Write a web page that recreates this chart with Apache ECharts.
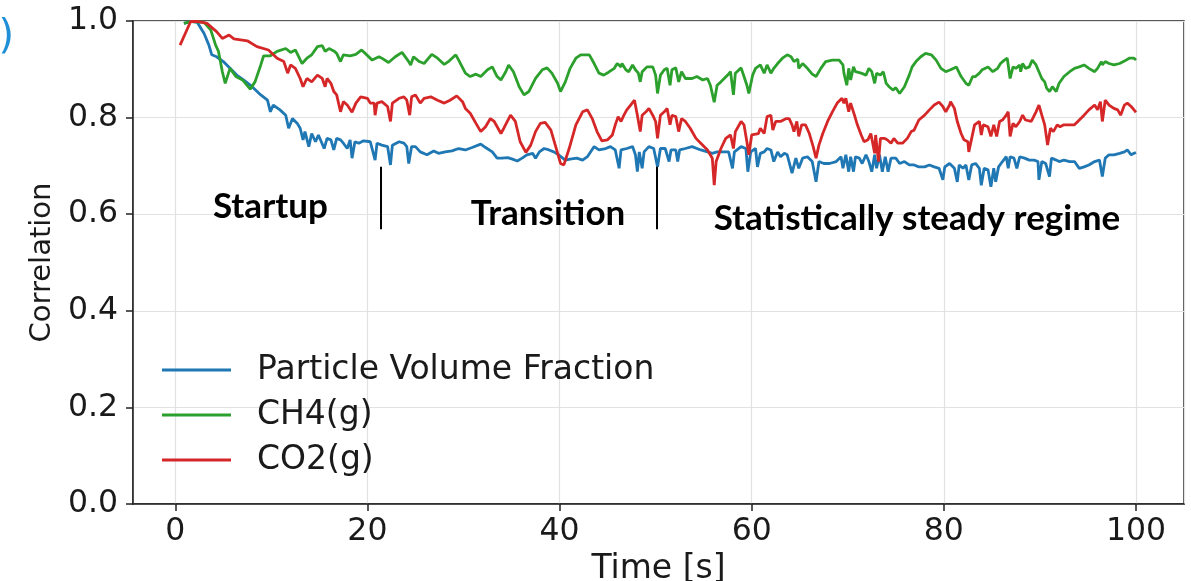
<!DOCTYPE html>
<html>
<head>
<meta charset="utf-8">
<script src="https://cdn.jsdelivr.net/npm/echarts@6/dist/echarts.min.js"></script>
<style>
  html, body { margin: 0; padding: 0; background: #fff; }
  #main { width: 1191px; height: 581px; }
</style>
</head>
<body>
<div id="main"></div>
<script>
// [time (s), correlation]
const pvfData = [
  [0.9,.995],[1.7,.999],[2.3,.997],[3.0,.974],[3.5,.950],[3.8,.930],[4.3,.926],[5.0,.916],[5.7,.902],[6.4,.888],
  [7.1,.878],[8.0,.864],[8.9,.847],[9.6,.836],[9.9,.812],[10.2,.826],[10.9,.816],[11.5,.805],[11.8,.778],[12.2,.798],
  [12.7,.788],[13.0,.778],[13.3,.754],[13.5,.771],[13.9,.740],[14.2,.767],[14.6,.750],[14.9,.764],[15.5,.736],[15.8,.757],
  [16.2,.754],[16.5,.733],[16.8,.757],[17.2,.754],[17.5,.747],[17.9,.736],[18.2,.754],[18.4,.716],[18.7,.750],[19.1,.747],
  [19.6,.752],[20.3,.750],[20.8,.712],[21.0,.747],[21.5,.743],[22.1,.740],[22.4,.702],[22.6,.743],[23.3,.750],[23.8,.747],
  [24.1,.740],[24.3,.705],[24.6,.740],[25.0,.740],[25.5,.729],[26.2,.723],[26.9,.731],[27.4,.726],[28.1,.729],[28.8,.731],
  [29.5,.736],[30.2,.733],[30.9,.738],[31.8,.745],[32.3,.738],[33.0,.729],[33.5,.716],[34.0,.716],[34.6,.717],[35.1,.714],
  [35.6,.710],[36.1,.716],[36.6,.723],[37.2,.726],[37.5,.716],[37.9,.729],[38.4,.736],[38.9,.733],[39.4,.729],[39.9,.723],
  [40.6,.712],[41.1,.714],[41.8,.716],[42.4,.712],[42.9,.719],[43.6,.740],[44.1,.733],[44.8,.736],[45.3,.740],[45.8,.733],
  [46.2,.695],[46.4,.733],[47.0,.736],[47.6,.740],[47.9,.723],[48.1,.688],[48.3,.729],[48.6,.695],[48.8,.729],[49.3,.740],
  [49.8,.736],[50.2,.698],[50.5,.736],[51.0,.736],[51.4,.709],[51.6,.733],[52.1,.733],[52.3,.709],[52.5,.733],[53.1,.736],
  [53.8,.740],[54.7,.733],[55.4,.729],[55.9,.726],[56.4,.729],[57.1,.729],[57.6,.729],[58.0,.695],[58.2,.729],[58.9,.740],
  [59.4,.736],[59.6,.688],[59.9,.729],[60.4,.736],[60.6,.698],[60.9,.726],[61.3,.729],[61.6,.736],[62.0,.733],[62.3,.709],
  [62.7,.729],[63.0,.719],[63.4,.726],[63.7,.723],[64.2,.685],[64.6,.716],[64.9,.695],[65.3,.716],[65.8,.719],[66.3,.709],
  [66.7,.667],[67.0,.709],[67.5,.705],[68.1,.705],[68.8,.709],[69.3,.719],[69.5,.695],[69.8,.723],[70.1,.688],[70.3,.719],
  [70.6,.688],[70.8,.719],[71.2,.716],[71.5,.705],[71.9,.723],[72.2,.709],[72.5,.688],[72.8,.723],[73.0,.695],[73.3,.723],
  [73.6,.688],[73.9,.719],[74.2,.688],[74.5,.716],[75.0,.716],[75.4,.705],[75.9,.709],[76.4,.702],[76.9,.702],[77.4,.698],
  [78.0,.698],[78.5,.702],[79.0,.698],[79.5,.695],[79.9,.671],[80.1,.698],[80.6,.705],[81.1,.695],[81.4,.667],[81.6,.702],
  [82.0,.695],[82.3,.702],[82.6,.671],[82.9,.702],[83.3,.705],[83.7,.695],[83.9,.660],[84.2,.695],[84.6,.692],[84.9,.657],
  [85.2,.695],[85.4,.667],[85.7,.698],[86.1,.709],[86.5,.719],[86.7,.695],[86.9,.719],[87.3,.716],[87.6,.695],[87.9,.719],
  [88.4,.716],[88.9,.712],[89.4,.712],[89.8,.709],[89.9,.671],[90.2,.709],[90.6,.705],[91.0,.678],[91.2,.716],[91.7,.712],
  [92.0,.709],[92.5,.712],[93.1,.709],[93.6,.709],[94.1,.695],[94.6,.698],[95.1,.702],[95.7,.709],[96.2,.712],[96.5,.678],
  [96.8,.716],[97.2,.723],[97.7,.723],[98.3,.726],[98.8,.729],[99.1,.733],[99.5,.723],[99.8,.726],[100.0,.728]
];

const ch4Data = [
  [0.9,.995],[1.6,.999],[3.0,.997],[3.7,.981],[4.2,.950],[4.5,.937],[4.9,.895],[5.2,.871],[5.7,.902],[6.3,.885],
  [7.0,.878],[7.8,.859],[8.3,.874],[8.9,.909],[9.2,.928],[9.9,.928],[10.6,.937],[11.5,.943],[12.0,.935],[12.5,.940],
  [13.2,.912],[13.7,.923],[14.2,.930],[14.8,.947],[15.3,.949],[15.6,.937],[16.0,.943],[16.5,.938],[16.8,.933],[17.2,.916],
  [17.5,.930],[18.2,.928],[18.8,.931],[19.4,.940],[20.5,.919],[21.2,.926],[21.5,.923],[22.2,.914],[22.9,.926],[23.6,.935],
  [24.3,.916],[24.5,.909],[24.8,.926],[25.4,.916],[25.9,.912],[26.7,.931],[27.3,.923],[28.0,.910],[28.5,.917],[29.2,.930],
  [29.5,.919],[30.2,.892],[30.7,.885],[31.3,.890],[31.8,.885],[32.5,.899],[33.0,.905],[33.5,.885],[33.9,.878],[34.4,.895],
  [34.7,.909],[35.2,.895],[35.8,.864],[36.3,.847],[36.8,.854],[37.5,.881],[38.2,.899],[38.7,.903],[39.2,.892],[39.8,.871],
  [40.1,.854],[40.6,.874],[41.1,.902],[41.7,.923],[42.2,.930],[43.1,.930],[43.6,.912],[44.1,.892],[44.6,.888],[45.1,.894],
  [45.7,.902],[46.0,.912],[46.4,.905],[46.5,.912],[46.9,.899],[47.2,.895],[47.6,.909],[47.9,.899],[48.2,.892],[48.4,.874],
  [48.6,.895],[49.1,.905],[49.7,.905],[50.0,.888],[50.2,.850],[50.5,.888],[50.9,.899],[51.2,.902],[51.5,.867],[51.7,.899],
  [52.1,.903],[52.4,.874],[52.7,.895],[53.1,.881],[53.8,.881],[54.3,.885],[54.9,.878],[55.4,.881],[55.7,.867],[56.1,.832],
  [56.4,.867],[56.8,.874],[57.5,.888],[57.8,.895],[58.1,.847],[58.3,.892],[58.9,.903],[59.2,.885],[59.5,.867],[59.7,.850],
  [60.1,.888],[60.4,.902],[60.9,.909],[61.3,.892],[61.6,.909],[62.0,.892],[62.3,.902],[62.7,.912],[63.2,.923],[63.7,.930],
  [64.1,.926],[64.4,.916],[64.8,.921],[64.9,.902],[65.3,.912],[65.8,.902],[66.3,.890],[66.7,.885],[67.2,.902],[67.7,.916],
  [68.4,.919],[69.1,.919],[69.5,.909],[69.6,.892],[69.9,.867],[70.1,.902],[70.3,.878],[70.6,.905],[70.8,.895],[71.4,.892],
  [71.9,.888],[72.2,.902],[72.5,.895],[72.8,.871],[73.0,.892],[73.4,.888],[73.7,.895],[74.0,.871],[74.3,.864],[74.7,.857],
  [75.0,.862],[75.4,.850],[75.9,.864],[76.4,.888],[76.7,.905],[77.1,.916],[77.6,.926],[78.1,.933],[78.7,.930],[79.2,.919],
  [79.7,.902],[80.2,.895],[80.7,.899],[81.3,.905],[81.8,.885],[82.3,.871],[82.6,.867],[83.0,.885],[83.3,.885],[83.7,.892],
  [84.0,.899],[84.6,.905],[85.1,.895],[85.6,.902],[85.9,.912],[86.3,.919],[86.6,.923],[86.7,.909],[86.9,.881],[87.2,.905],
  [87.5,.902],[87.9,.909],[88.0,.895],[88.2,.912],[88.5,.902],[88.9,.905],[89.2,.919],[89.6,.909],[89.9,.895],[90.2,.881],
  [90.5,.874],[90.7,.861],[91.0,.854],[91.3,.864],[91.7,.854],[92.0,.871],[92.5,.885],[93.1,.895],[93.6,.902],[94.1,.905],
  [94.6,.909],[95.1,.902],[95.7,.895],[96.0,.902],[96.4,.916],[96.5,.909],[96.8,.916],[97.2,.912],[97.7,.909],[98.3,.912],
  [98.8,.917],[99.3,.923],[99.8,.923],[100.0,.919]
];

const co2Data = [
  [0.5,.950],[1.6,.999],[2.3,.999],[3.3,.995],[4.3,.978],[4.9,.964],[5.6,.971],[6.1,.963],[7.5,.959],[8.5,.947],
  [9.7,.940],[10.6,.923],[11.3,.916],[11.7,.892],[12.0,.909],[12.5,.902],[13.0,.881],[13.3,.864],[13.7,.881],[14.2,.874],
  [14.8,.888],[15.3,.881],[15.6,.864],[15.8,.881],[16.2,.871],[16.5,.854],[16.8,.847],[17.2,.812],[17.5,.833],[17.9,.826],
  [18.4,.811],[18.8,.830],[19.3,.843],[20.0,.840],[20.3,.830],[20.7,.830],[20.8,.805],[21.0,.830],[21.5,.833],[22.1,.823],
  [22.4,.792],[22.6,.830],[23.3,.840],[23.8,.843],[24.1,.836],[24.4,.805],[24.6,.843],[25.0,.847],[25.5,.830],[25.9,.840],
  [26.6,.843],[27.3,.836],[28.0,.830],[28.6,.836],[29.3,.845],[29.9,.833],[30.2,.819],[30.7,.809],[31.3,.788],[31.8,.771],
  [32.3,.781],[32.8,.798],[33.2,.792],[33.9,.767],[34.2,.778],[34.9,.805],[35.4,.792],[35.9,.750],[36.5,.728],[37.0,.743],
  [37.5,.771],[38.0,.788],[38.5,.790],[39.1,.774],[39.6,.740],[40.1,.705],[40.45,.702],[41.0,.736],[41.7,.785],[42.4,.812],
  [42.9,.816],[43.4,.798],[43.9,.771],[44.4,.752],[45.0,.754],[45.5,.764],[45.8,.785],[46.1,.802],[46.4,.792],[46.7,.805],
  [47.0,.816],[47.4,.826],[47.8,.836],[48.1,.805],[48.4,.771],[48.6,.805],[49.0,.812],[49.3,.819],[49.7,.805],[50.0,.792],
  [50.2,.757],[50.5,.805],[50.9,.812],[51.2,.819],[51.5,.785],[51.7,.805],[52.1,.802],[52.4,.771],[52.7,.798],[53.1,.792],
  [53.6,.778],[54.2,.757],[54.7,.747],[55.4,.733],[55.9,.716],[56.1,.660],[56.3,.709],[56.8,.736],[57.3,.757],[57.8,.764],
  [58.1,.736],[58.3,.771],[58.9,.792],[59.2,.785],[59.5,.750],[59.7,.723],[60.0,.764],[60.7,.767],[60.9,.778],[61.3,.767],
  [61.6,.802],[62.0,.805],[62.2,.774],[62.5,.792],[63.0,.792],[63.6,.798],[63.9,.798],[64.2,.785],[64.4,.771],[64.7,.792],
  [64.9,.761],[65.2,.785],[65.6,.785],[66.0,.767],[66.4,.740],[66.7,.716],[67.0,.743],[67.4,.767],[67.9,.792],[68.4,.812],
  [68.9,.830],[69.4,.840],[69.6,.830],[69.8,.840],[70.1,.812],[70.3,.830],[70.7,.805],[71.0,.785],[71.4,.764],[71.7,.750],
  [72.1,.754],[72.4,.767],[72.6,.747],[72.8,.726],[72.9,.764],[73.2,.709],[73.4,.757],[73.8,.757],[74.1,.754],[74.5,.747],
  [74.8,.757],[75.2,.747],[75.7,.747],[76.2,.757],[76.6,.771],[76.9,.774],[77.4,.795],[78.0,.805],[78.5,.816],[79.0,.826],
  [79.5,.832],[79.9,.823],[80.2,.812],[80.6,.826],[80.7,.833],[81.1,.819],[81.4,.792],[81.8,.767],[82.1,.754],[82.5,.750],
  [82.6,.729],[82.9,.757],[83.2,.785],[83.7,.792],[83.9,.764],[84.1,.785],[84.6,.781],[84.9,.761],[85.2,.785],[85.5,.761],
  [85.8,.792],[86.1,.795],[86.5,.805],[86.7,.812],[86.9,.761],[87.2,.788],[87.5,.781],[87.9,.792],[88.2,.805],[88.5,.795],
  [89.1,.792],[89.6,.812],[89.9,.826],[90.2,.805],[90.5,.785],[90.8,.743],[91.1,.778],[91.4,.771],[91.8,.785],[92.1,.781],
  [92.5,.785],[93.1,.785],[93.6,.785],[94.1,.795],[94.6,.805],[95.1,.816],[95.7,.826],[96.0,.816],[96.3,.833],[96.5,.792],
  [96.8,.836],[97.2,.826],[97.7,.819],[98.1,.816],[98.4,.805],[98.8,.826],[99.1,.830],[99.5,.823],[99.8,.816],[100.0,.811]
];

const seriesNames = ['Particle Volume Fraction', 'CH4(g)', 'CO2(g)'];
const seriesColors = ['#1f77b4', '#2ca02c', '#d62728'];

// regime annotations: label, [time, correlation] of label centre
const regimeLabels = [
  ['Startup', [9.9, 0.615]],
  ['Transition', [38.8, 0.600]],
  ['Statistically steady regime', [77.2, 0.590]]
];
// regime boundaries (time) and their vertical extent
const regimeBounds = [21.35, 50.1];
const boundRange = [0.569, 0.698];

const chart = echarts.init(document.getElementById('main'), null, { renderer: 'canvas' });

const axisFont = 'DejaVu Sans';

const lineSeries = [pvfData, ch4Data, co2Data].map((d, i) => ({
  name: seriesNames[i],
  type: 'line',
  data: d,
  showSymbol: false,
  symbol: 'none',
  lineStyle: { width: 2.8, color: seriesColors[i] },
  itemStyle: { color: seriesColors[i] },
  z: 2 + i
}));

const notes = {
  name: 'notes',
  type: 'line',
  data: [],
  silent: true,
  z: 10,
  markLine: {
    silent: true,
    symbol: ['none', 'none'],
    label: { show: false },
    lineStyle: { color: '#000', width: 2, type: 'solid' },
    data: regimeBounds.map(t => [{ coord: [t, boundRange[1]] }, { coord: [t, boundRange[0]] }])
  },
  markPoint: {
    silent: true,
    symbol: 'circle',
    symbolSize: 0,
    label: {
      show: true,
      position: 'inside',
      color: '#000',
      fontFamily: 'Lato',
      fontWeight: 'bold',
      fontSize: 35
    },
    data: regimeLabels.map(r => ({ coord: r[1], value: r[0], label: { formatter: r[0] } }))
  }
};

const option = {
  animation: false,
  backgroundColor: '#fff',
  grid: {
    left: 133, right: 7, top: 21, bottom: 77,
    containLabel: false,
    outerBoundsMode: 'none',
    show: true, borderColor: '#222', borderWidth: 1.5
  },
  legend: {
    data: seriesNames,
    orient: 'vertical',
    left: 162,
    top: 352,
    padding: 0,
    itemWidth: 69,
    itemHeight: 14,
    itemGap: 9,
    icon: 'path://M0,0 L69,0 L69,2.8 L0,2.8 Z',
    textStyle: {
      fontFamily: axisFont, fontSize: 33, color: '#1a1a1a',
      lineHeight: 36, padding: [0, 0, 0, 21]
    }
  },
  xAxis: {
    type: 'value',
    min: -4.4,
    max: 105,
    name: 'Time [s]',
    nameLocation: 'middle',
    nameGap: 42,
    nameTextStyle: { fontFamily: axisFont, fontSize: 33, color: '#1a1a1a' },
    axisLine: { show: true, onZero: false, lineStyle: { color: '#222', width: 1.5 } },
    axisTick: { show: true, length: 7, lineStyle: { color: '#222', width: 1.5 } },
    axisLabel: {
      fontFamily: axisFont, fontSize: 31.5, color: '#1a1a1a', margin: 12,
      showMinLabel: false, showMaxLabel: false,
      formatter: v => String(v)
    },
    splitLine: { show: true, lineStyle: { color: '#e2e2e2', width: 1.2 } }
  },
  yAxis: {
    type: 'value',
    min: 0,
    max: 1,
    interval: 0.2,
    name: 'Correlation',
    nameLocation: 'middle',
    nameGap: 74,
    nameTextStyle: { fontFamily: axisFont, fontSize: 29, color: '#1a1a1a' },
    axisLine: { show: true, onZero: false, lineStyle: { color: '#222', width: 1.5 } },
    axisTick: { show: true, length: 7, lineStyle: { color: '#222', width: 1.5 } },
    axisLabel: {
      fontFamily: axisFont, fontSize: 31.5, color: '#1a1a1a', margin: 15,
      formatter: v => v.toFixed(1)
    },
    splitLine: { show: true, lineStyle: { color: '#e2e2e2', width: 1.2 } }
  },
  graphic: [{
    type: 'text',
    x: 14,
    y: 38,
    style: {
      text: '(c)',
      fill: '#1f8fd6',
      font: '40px "DejaVu Sans"',
      textAlign: 'right',
      textVerticalAlign: 'middle'
    }
  }],
  series: lineSeries.concat([notes])
};

chart.setOption(option);
</script>
</body>
</html>
